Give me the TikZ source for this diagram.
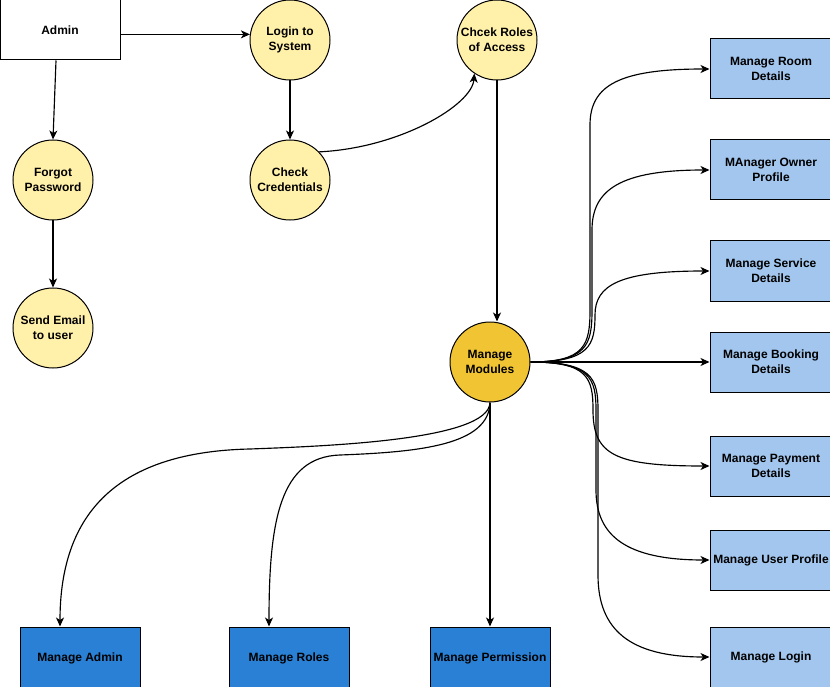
\documentclass[tikz,border=0pt]{standalone}
\usepackage{fontspec}
\setmainfont{Liberation Sans}
\usetikzlibrary{arrows.meta}
\definecolor{procyellow}{HTML}{FFF0AA}
\definecolor{hubyellow}{HTML}{F0C432}
\definecolor{lightblue}{HTML}{A2C6EE}
\definecolor{darkblue}{HTML}{2A80D5}
\tikzset{
  every node/.style={font=\fontsize{12}{15}\selectfont\bfseries, align=center, text=black},
  proc/.style={circle, draw=black, fill=procyellow, minimum size=80pt, inner sep=0pt, line width=1pt},
  hub/.style={proc, fill=hubyellow},
  entity/.style={rectangle, draw=black, fill=white, minimum width=120pt, minimum height=60pt, inner sep=0pt, line width=1pt},
  modbox/.style={rectangle, draw=black, fill=lightblue, minimum width=122pt, minimum height=60pt, inner sep=0pt, line width=1pt},
  corebox/.style={rectangle, draw=black, fill=darkblue, minimum width=120pt, minimum height=62pt, inner sep=0pt, line width=1pt},
  arr/.style={draw=black, line width=1.15pt, -{Stealth[length=9pt, width=8pt, inset=2.5pt]}}
}
\begin{document}
\begin{tikzpicture}[x=1pt, y=-1pt]
\clip (0,0) rectangle (830,687);
\fill[white] (0,0) rectangle (830,687);
% nodes
\node[entity] (admin) at (60,30) {Admin};
\node[proc] (login) at (290,40) {Login to\\System};
\node[proc] (roles) at (497,40) {Chcek Roles\\of Access};
\node[proc] (forgot) at (53,180) {Forgot\\Password};
\node[proc] (cred) at (290,180) {Check\\Credentials};
\node[proc] (email) at (53,328) {Send Email\\to user};
\node[hub] (mm) at (490,362) {Manage\\Modules};
\node[modbox] (room) at (771,69) {Manage Room\\Details};
\node[modbox] (owner) at (771,170) {MAnager Owner\\Profile};
\node[modbox] (service) at (771,271) {Manage Service\\Details};
\node[modbox] (booking) at (771,362) {Manage Booking\\Details};
\node[modbox] (payment) at (771,466) {Manage Payment\\Details};
\node[modbox] (uprofile) at (771,560) {Manage User Profile};
\node[modbox] (mlogin) at (771,657) {Manage Login};
\node[corebox] (madmin) at (80,658) {Manage Admin};
\node[corebox] (mroles) at (289,658) {Manage Roles};
\node[corebox] (mperm) at (490,658) {Manage Permission};
% top flow
\draw[arr] ([xshift=-4pt]admin.south) -- (forgot.north);
\draw[arr] (login.172 -| admin.east) -- (login.172);
\draw[arr] (login.south) -- (cred.north);
\draw[arr] (forgot.south) -- (email.north);
\draw[arr] (cred.44) .. controls (400,148) and (472,105) .. (roles.236);
\draw[arr] (roles.south) -- (roles.south |- mm.north);
% manage modules to right boxes
\draw[arr] (mm.east) .. controls (585,362) and (590,345) .. (590,310) -- (590,125) .. controls (590,85) and (620,69) .. (room.west);
\draw[arr] (mm.east) .. controls (587,362) and (592,345) .. (592,310) -- (592,230) .. controls (592,190) and (620,170) .. (owner.west);
\draw[arr] (mm.east) .. controls (590,362) and (595,345) .. (595,315) .. controls (595,285) and (620,271) .. (service.west);
\draw[arr] (mm.east) -- (booking.west);
\draw[arr] (mm.east) .. controls (588,362) and (593,378) .. (593,410) .. controls (593,455) and (615,466) .. (payment.west);
\draw[arr] (mm.east) .. controls (590,362) and (596,378) .. (596,410) -- (596,490) .. controls (596,535) and (625,560) .. (uprofile.west);
\draw[arr] (mm.east) .. controls (592,362) and (598,378) .. (598,410) -- (598,575) .. controls (598,630) and (630,657) .. (mlogin.west);
% manage modules to bottom boxes
\draw[arr] (mm.south) -- (mm.south |- mperm.north);
\draw[arr] (mm.south) .. controls (489,440) and (330,446) .. (250,449) .. controls (110,452) and (60,520) .. ([xshift=-20pt]madmin.north);
\draw[arr] (mm.south) .. controls (489,445) and (420,452) .. (340,455) .. controls (280,457) and (269,520) .. ([xshift=-20pt]mroles.north);
\end{tikzpicture}
\end{document}
